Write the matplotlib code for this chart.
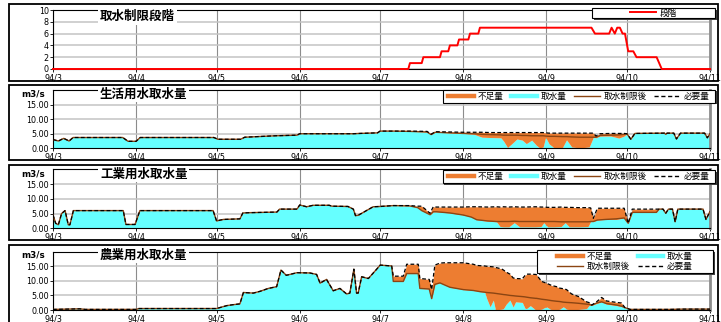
import numpy as np
import pandas as pd
import matplotlib
matplotlib.use("Agg")
import matplotlib.pyplot as plt
from matplotlib.lines import Line2D
from matplotlib.patches import Rectangle

plt.rcParams['font.family'] = ['Noto Sans CJK JP', 'DejaVu Sans']

W, H = 721, 322
START = pd.Timestamp('1994-03-01')

month_dates = ['1994-03-01', '1994-04-01', '1994-05-01', '1994-06-01', '1994-07-01',
               '1994-08-01', '1994-09-01', '1994-10-01', '1994-11-01']
month_labels = ['94/3', '94/4', '94/5', '94/6', '94/7', '94/8', '94/9', '94/10', '94/11']

# ---- 取水制限段階 (days counted from 1994-03-01) ----
stage_days = [0, 132.5, 133.1, 137.5, 138.1, 144.3, 144.9, 147.4, 148.0, 150.8, 151.4, 154.9,
              155.5, 158.6, 159.2, 200.8, 202.1, 207.4, 208.3, 209.5, 210.4, 211.4, 212.4,
              213.3, 214.5, 216.4, 217.6, 225.1, 227.0, 245]
stage_vals = [0, 0, 1, 1, 2, 2, 3, 3, 4, 4, 5, 5, 6, 6, 7, 7, 6, 6, 7, 6, 7, 7, 6, 6, 3, 3,
              2, 2, 0, 0]

# ---- 生活用水 ----
dom_days = [0, 2, 4, 6, 7.5, 26, 28, 31, 32.5, 60, 61.5, 70, 71.5, 83, 91, 92, 112, 114.5,
            121, 122, 127, 133, 139.5, 141, 142.5, 148, 153, 157, 160, 163, 167, 168, 169.5,
            171, 173, 175, 176.5, 178.5, 180.3, 181.6, 182.8, 183.7, 185, 187, 190, 191.5,
            193.4, 196.5, 200, 201.5, 202.5, 204, 208, 211, 213, 214, 215.5, 217, 228,
            228.5, 229, 231.5, 232.5, 234, 243, 244, 245]
dom_need = [3.0, 2.5, 3.4, 2.5, 3.7, 3.7, 2.4, 2.4, 3.7, 3.7, 3.1, 3.1, 3.8, 4.3, 4.5, 5.0,
            5.0, 5.1, 5.3, 5.9, 5.9, 5.9, 5.8, 4.8, 5.7, 5.6, 5.5, 5.5, 5.5, 5.4, 5.4,
            5.4, 5.4, 5.4, 5.4, 5.4, 5.4, 5.4, 5.4, 5.4, 5.4, 5.3, 5.2, 5.2, 5.2, 5.2,
            5.2, 5.2, 5.2, 5.2, 4.2, 5.0, 5.1, 5.1, 5.1, 5.0, 3.1, 5.1, 5.2, 4.8, 5.2,
            5.2, 3.2, 5.2, 5.2, 3.6, 5.0]
dom_limit = [3.0, 2.5, 3.4, 2.5, 3.7, 3.7, 2.4, 2.4, 3.7, 3.7, 3.1, 3.1, 3.8, 4.3, 4.5, 5.0,
             5.0, 5.1, 5.3, 5.9, 5.9, 5.8, 5.6, 4.7, 5.5, 5.3, 5.1, 5.0, 4.8, 4.7, 4.6,
             4.5, 4.5, 4.5, 4.5, 4.4, 4.4, 4.3, 4.3, 4.3, 4.3, 4.2, 4.1, 4.1, 4.0, 4.0,
             3.9, 3.8, 3.8, 3.8, 3.8, 4.4, 4.5, 4.6, 4.8, 5.0, 3.1, 5.1, 5.2, 4.8, 5.2,
             5.2, 3.2, 5.2, 5.2, 3.6, 5.0]
dom_take = [3.0, 2.5, 3.4, 2.5, 3.7, 3.7, 2.4, 2.4, 3.7, 3.7, 3.1, 3.1, 3.8, 4.3, 4.5, 5.0,
            5.0, 5.1, 5.3, 5.9, 5.9, 5.8, 5.6, 4.7, 5.5, 5.3, 5.1, 4.8, 3.8, 3.7, 3.6,
            2.5, 0.3, 1.5, 3.2, 2.8, 1.6, 2.8, 1.0, 0.1, 0.5, 3.8, 1.5, 0.1, 0.3, 2.9,
            0.5, 0.1, 0.5, 3.8, 3.6, 4.2, 4.2, 3.5, 4.2, 5.0, 3.1, 5.1, 5.2, 4.8, 5.2,
            5.2, 3.2, 5.2, 5.2, 3.6, 5.0]

# ---- 工業用水 ----
ind_days = [0, 1, 2, 3.2, 4.5, 5.7, 6.3, 7.6, 26.2, 27.2, 30.6, 32.4, 59.7, 61, 63.5, 69.7,
            70.8, 73.3, 83.5, 84.5, 91, 92, 94.6, 97, 103, 104, 110, 112, 112.8, 113.8,
            119.4, 122, 127, 133, 136, 137.5, 140.6, 141.8, 143, 148, 153, 156, 158, 162,
            165.4, 166.7, 168, 170, 172, 174, 176, 180, 182, 183, 184.5, 187, 189.5, 191,
            192.5, 196, 199.5, 200.5, 201.5, 203, 206, 210, 213, 214.5, 216, 220, 225, 226,
            227.5, 228.5, 229.5, 231, 232, 233, 242.4, 243.5, 245]
ind_need = [4.5, 1.7, 1.2, 5.0, 6.0, 1.2, 1.2, 6.0, 6.0, 1.3, 1.3, 6.0, 6.0, 2.5, 3.0, 3.2,
            5.2, 5.3, 5.5, 6.5, 6.5, 7.9, 7.3, 7.8, 7.8, 7.5, 7.4, 6.5, 4.3, 4.4, 7.3,
            7.4, 7.7, 7.7, 7.5, 7.5, 5.1, 7.3, 7.2, 7.2, 7.2, 7.3, 7.3, 7.2, 7.3, 7.2,
            7.3, 7.2, 7.3, 7.2, 7.2, 7.3, 7.2, 7.2, 7.1, 7.1, 7.2, 7.1, 7.1, 7.0, 7.0,
            6.9, 3.4, 6.8, 6.8, 6.8, 6.8, 1.7, 6.5, 6.5, 6.5, 6.5, 6.5, 5.1, 6.5, 6.5,
            2.2, 6.5, 6.5, 3.0, 5.7]
ind_limit = [4.5, 1.7, 1.2, 5.0, 6.0, 1.2, 1.2, 6.0, 6.0, 1.3, 1.3, 6.0, 6.0, 2.5, 3.0, 3.2,
             5.2, 5.3, 5.5, 6.5, 6.5, 7.9, 7.3, 7.8, 7.8, 7.5, 7.4, 6.5, 4.3, 4.4, 7.3,
             7.4, 7.7, 7.6, 7.0, 6.0, 4.6, 5.6, 5.6, 5.2, 4.5, 3.8, 2.9, 2.5, 2.3, 2.3,
             2.3, 2.3, 2.4, 2.3, 2.3, 2.3, 2.3, 2.3, 2.3, 2.3, 2.2, 2.2, 2.2, 2.2, 2.2,
             2.3, 2.3, 2.8, 3.0, 3.2, 3.5, 1.7, 5.4, 5.4, 5.4, 6.5, 6.5, 5.1, 6.5, 6.5,
             2.2, 6.5, 6.5, 3.0, 5.7]
ind_take = [4.5, 1.7, 1.2, 5.0, 6.0, 1.2, 1.2, 6.0, 6.0, 1.3, 1.3, 6.0, 6.0, 2.5, 3.0, 3.2,
            5.2, 5.3, 5.5, 6.5, 6.5, 7.9, 7.3, 7.8, 7.8, 7.5, 7.4, 6.5, 4.3, 4.4, 7.3,
            7.4, 7.7, 7.6, 7.0, 6.0, 4.6, 5.6, 5.6, 5.2, 4.5, 3.8, 2.9, 2.4, 2.2, 0.6,
            0.5, 0.5, 1.9, 0.5, 0.5, 0.5, 0.6, 1.9, 0.5, 0.5, 0.6, 1.9, 0.5, 0.5, 0.6,
            2.3, 2.3, 2.8, 3.0, 3.0, 3.5, 1.7, 5.4, 5.4, 5.4, 6.5, 6.5, 5.1, 6.5, 6.5,
            2.2, 6.5, 6.5, 3.0, 5.7]

# ---- 農業用水 ----
agr_days = [0, 10, 12, 31, 32, 61, 64.8, 67, 69.7, 71, 74.7, 77.2, 80.3, 83.4, 85, 87, 91,
            95.8, 98.3, 99.6, 102, 104.5, 107, 109.5, 110.7, 112.2, 113.2, 113.8, 115.1,
            117.6, 120.7, 122, 126.3, 126.9, 130.6, 131.9, 136.2, 136.8, 140.3, 141.2,
            142.4, 144.3, 146, 148, 153, 156.7, 158, 159.2, 161, 161.7, 163, 164.2, 165,
            167.3, 168, 169, 170.4, 171.6, 172.5, 175, 176, 176.6, 178, 180, 180.3, 182.2,
            184, 186, 187.8, 189, 190.3, 191.5, 193.4, 196, 199, 200, 200.9, 202.7, 204.6,
            206.4, 210.2, 212, 213.3, 215.2, 230, 235, 245]
agr_need = [0.2, 0.4, 0.2, 0.2, 0.5, 0.5, 1.5, 1.8, 2.1, 6.0, 5.8, 6.4, 7.4, 8.0, 13.7,
            11.9, 12.8, 12.7, 12.2, 9.2, 10.5, 6.6, 7.4, 5.5, 5.8, 14.0, 5.8, 5.8, 11.4,
            10.8, 14.0, 15.4, 15.1, 11.6, 11.6, 15.7, 15.7, 10.8, 10.5, 7.0, 15.4, 16.1,
            16.2, 16.2, 16.2, 15.7, 15.3, 15.2, 15.1, 15.0, 14.9, 14.8, 14.6, 14.1, 13.7,
            13.0, 12.3, 11.0, 10.8, 10.7, 11.8, 12.3, 12.3, 12.2, 12.1, 9.8, 9.2, 8.4,
            8.0, 7.5, 7.3, 7.0, 5.5, 4.6, 2.8, 2.5, 1.7, 2.8, 4.3, 3.1, 2.6, 2.4, 0.8,
            0.2, 0.2, 0.3, 0.3]
agr_limit = [0.2, 0.4, 0.2, 0.2, 0.5, 0.5, 1.5, 1.8, 2.1, 6.0, 5.8, 6.4, 7.4, 8.0, 13.7,
             11.9, 12.8, 12.7, 12.2, 9.2, 10.5, 6.6, 7.4, 5.5, 5.8, 14.0, 5.8, 5.8, 11.4,
             10.8, 14.0, 15.4, 15.1, 9.8, 9.8, 12.5, 12.5, 7.4, 7.2, 3.9, 8.8, 9.3, 8.6,
             7.8, 7.0, 6.7, 6.5, 6.3, 6.1, 6.0, 5.9, 5.8, 5.7, 5.4, 5.3, 5.2, 5.0, 4.9,
             4.8, 4.6, 4.5, 4.4, 4.2, 4.0, 4.0, 3.7, 3.5, 3.2, 3.0, 2.9, 2.7, 2.6, 2.5,
             2.3, 2.0, 1.9, 1.6, 2.4, 2.8, 2.2, 1.7, 1.3, 0.8, 0.2, 0.2, 0.3, 0.3]
agr_take = [0.2, 0.4, 0.2, 0.2, 0.5, 0.5, 1.5, 1.8, 2.1, 6.0, 5.8, 6.4, 7.4, 8.0, 13.7,
            11.9, 12.8, 12.7, 12.2, 9.2, 10.5, 6.6, 7.4, 5.5, 5.8, 14.0, 5.8, 5.8, 11.4,
            10.8, 14.0, 15.4, 15.1, 9.8, 9.8, 12.5, 12.5, 7.4, 7.2, 3.9, 8.8, 9.3, 8.6,
            7.8, 7.0, 6.7, 6.5, 6.3, 6.1, 4.0, 1.1, 3.4, 0.0, 0.3, 0.5, 2.0, 3.4, 1.0,
            2.8, 2.6, 0.6, 0.5, 1.5, 0.0, 0.0, 0.3, 1.1, 0.0, 0.0, 0.3, 1.1, 0.3, 0.0,
            0.2, 0.5, 1.7, 1.6, 2.2, 2.8, 2.0, 1.5, 1.2, 0.8, 0.2, 0.2, 0.3, 0.3]

C_SHORT = '#ED7D31'
C_TAKE = '#66FFFF'
C_LIMIT = '#8B4513'
C_STAGE = '#FF0000'
TICK_FS = 5.8
LEG_FS = 6.2
DASH = (0, (3.0, 1.9))

month_pos = [(pd.Timestamp(d) - START).days for d in month_dates]

fig = plt.figure(figsize=(W / 100, H / 100), dpi=100)


def px_rect(x0, y0, x1, y1):
    return (x0 / W, 1 - y1 / H), (x1 - x0) / W, (y1 - y0) / H


def frame(y0, y1):
    xy, w, h = px_rect(9, y0, 718, y1)
    fig.add_artist(Rectangle(xy, w, h, transform=fig.transFigure, fill=False,
                             ec='black', lw=1.3, zorder=1))


def make_axes(top, bottom):
    xy, w, h = px_rect(53, top, 710, bottom)
    ax = fig.add_axes([xy[0], xy[1], w, h])
    ax.set_xlim(0, 245)
    ax.set_xticks(month_pos)
    ax.set_xticklabels(month_labels, fontsize=TICK_FS, family='DejaVu Sans')
    ax.set_axisbelow(True)
    ax.grid(axis='x', color='#8c8c8c', lw=0.8)
    ax.grid(axis='y', color='#c4c4c4', lw=1.1)
    ax.tick_params(axis='both', length=2, width=0.6, pad=1, labelsize=TICK_FS, colors='black')
    for s in ('left', 'bottom', 'top'):
        ax.spines[s].set_linewidth(0.8)
        ax.spines[s].set_color('black')
    ax.spines['right'].set_color('#8c8c8c')
    ax.spines['right'].set_linewidth(2.0)
    return ax


def title(ax, text, yfrac):
    ax.text(0.0715, yfrac, text, transform=ax.transAxes, fontsize=9, fontweight='bold',
            ha='left', va='center', zorder=10,
            bbox=dict(facecolor='white', edgecolor='none', pad=1.2))


def legend_box(x0, y0, x1, y1, handles, labels, ncol):
    xy, w, h = px_rect(x0 + 1.5, y0 + 1.5, x1 + 1.5, y1 + 1.5)
    fig.add_artist(Rectangle(xy, w, h, transform=fig.transFigure, fc='#404040', ec='none',
                             zorder=6))
    xy, w, h = px_rect(x0, y0, x1, y1)
    fig.add_artist(Rectangle(xy, w, h, transform=fig.transFigure, fc='white', ec='black',
                             lw=0.8, zorder=7))
    leg = fig.legend(handles, labels, loc='center',
                     bbox_to_anchor=((x0 + x1) / 2 / W, 1 - (y0 + y1) / 2 / H),
                     bbox_transform=fig.transFigure, ncol=ncol, frameon=False,
                     fontsize=LEG_FS, handlelength=3.0, handletextpad=0.4,
                     columnspacing=0.9, borderpad=0, labelspacing=0.15)
    leg.set_zorder(8)
    return leg


# ---- panel 1: restriction stage ----
frame(4, 81)
ax1 = make_axes(10, 69)
ax1.plot(stage_days, stage_vals, color=C_STAGE, lw=1.4, clip_on=False, zorder=3)
ax1.set_ylim(0, 10)
ax1.set_yticks([0, 2, 4, 6, 8, 10])
ax1.set_yticklabels(['0', '2', '4', '6', '8', '10'], fontsize=TICK_FS, family='DejaVu Sans')
title(ax1, '取水制限段階', 0.885)
legend_box(592, 8, 715, 18, [Line2D([], [], color=C_STAGE, lw=1.4)], ['段階'], 1)

short_h = Line2D([], [], color=C_SHORT, lw=3.2)
take_h = Line2D([], [], color=C_TAKE, lw=3.2)
limit_h = Line2D([], [], color=C_LIMIT, lw=1.0)
need_h = Line2D([], [], color='black', lw=1.0, ls=DASH)


def water_panel(top, bottom, days, need, limit, take, name, tfrac):
    ax = make_axes(top, bottom)
    d = np.asarray(days, float)
    ax.fill_between(d, 0, take, color=C_TAKE, lw=0, zorder=2)
    ax.fill_between(d, take, need, color=C_SHORT, lw=0, zorder=2)
    ax.plot(d, limit, color=C_LIMIT, lw=1.0, zorder=3)
    ax.plot(d, need, color='black', lw=0.9, ls=DASH, zorder=4)
    ax.set_ylim(0, 20)
    ax.set_yticks([0, 5, 10, 15])
    ax.set_yticklabels(['0.00', '5.00', '10.00', '15.00'], fontsize=TICK_FS,
                       family='DejaVu Sans')
    title(ax, name, tfrac)
    ax.text(-0.031, tfrac, 'm3/s', transform=ax.transAxes, fontsize=6.3,
            fontweight='bold', family='DejaVu Sans', ha='center', va='center')
    return ax


frame(85, 160)
water_panel(90, 148.3, dom_days, dom_need, dom_limit, dom_take, '生活用水取水量', 0.93)
legend_box(443, 90, 715, 103, [short_h, take_h, limit_h, need_h],
           ['不足量', '取水量', '取水制限後', '必要量'], 4)

frame(165, 240)
water_panel(169.3, 228.3, ind_days, ind_need, ind_limit, ind_take, '工業用水取水量', 0.92)
legend_box(443, 170, 715, 183, [short_h, take_h, limit_h, need_h],
           ['不足量', '取水量', '取水制限後', '必要量'], 4)

frame(245, 325)
water_panel(251.7, 310, agr_days, agr_need, agr_limit, agr_take, '農業用水取水量', 0.94)
legend_box(537, 250, 713, 273, [short_h, limit_h, take_h, need_h],
           ['不足量', '取水制限後', '取水量', '必要量'], 2)

fig.savefig('out.png', dpi=100)
